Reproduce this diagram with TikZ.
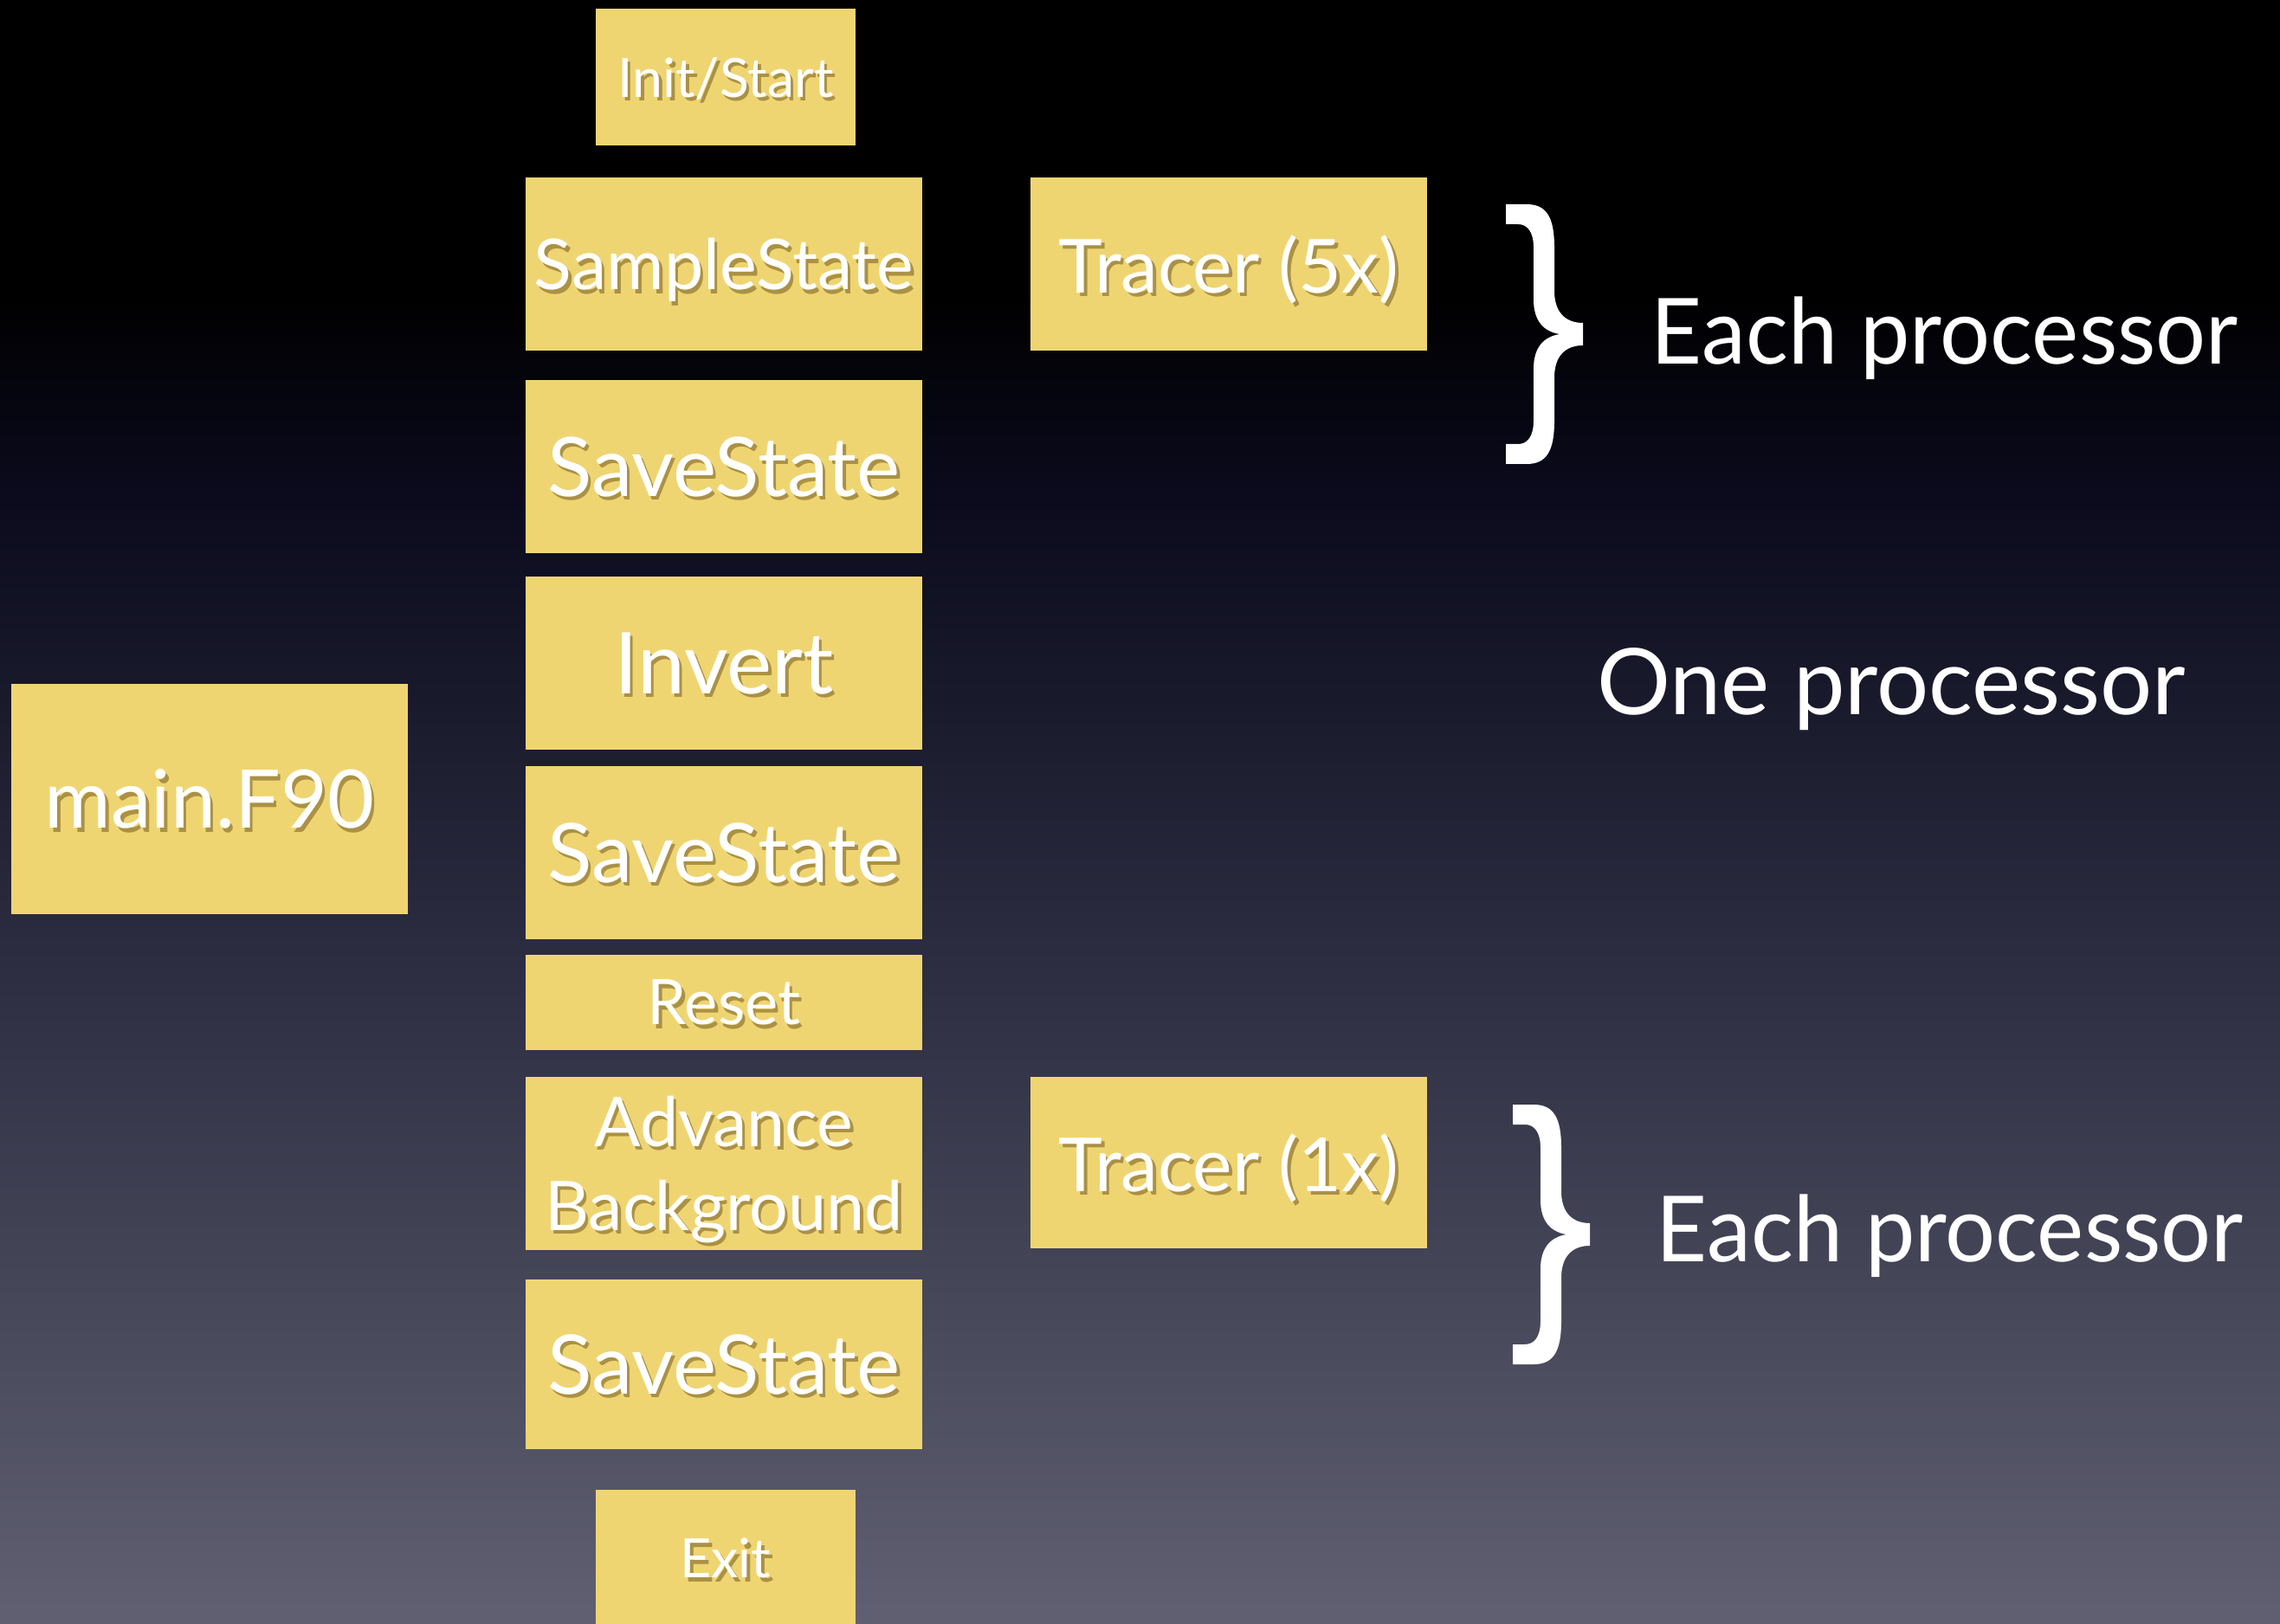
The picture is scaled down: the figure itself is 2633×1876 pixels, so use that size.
\documentclass[tikz,border=0pt]{standalone}
\usepackage{fontspec}
\setmainfont{Lato}
\newfontfamily\narrowfont{Lato}[FakeStretch=0.97]
\usepackage{tikz}
\usetikzlibrary{positioning}

\definecolor{boxc}{RGB}{239,213,114}
\definecolor{shadc}{RGB}{170,145,68}
\definecolor{bgbot}{RGB}{96,96,114}
\definecolor{bglow}{RGB}{46,46,66}
\definecolor{bgdark}{RGB}{10,10,28}
% stops between 25bp (bottom edge) and 75bp (top edge)
\pgfdeclareverticalshading{slidebg}{100bp}{color(0bp)=(bgbot); color(25bp)=(bgbot); color(45bp)=(bglow); color(60bp)=(bgdark); color(66bp)=(black); color(100bp)=(black)}
\newcommand\shtxt[1]{\rlap{\hspace{1pt}\raisebox{-1.2pt}{\color{shadc}#1}}#1}

\begin{document}
\begin{tikzpicture}[x=0.01cm,y=-0.01cm,
  every node/.style={text=white,inner sep=0pt},
  box/.style={fill=boxc,align=center,text depth=0pt,minimum width=4.57cm,minimum height=2cm},
  smallbox/.style={box,minimum width=2.99cm,minimum height=1.58cm,font=\fontsize{17.8}{21}\selectfont},
  lbl/.style={anchor=base west,font=\narrowfont\fontsize{30}{36}\selectfont},
  pics/curly/.style={code={
    \fill[white] (-89,-150) -- (-65,-150) .. controls (-42,-150) and (-33,-135) .. (-33,-100)
      -- (-33,-50) .. controls (-33,-25) and (-20,-13) .. (0,-13) -- (0,13)
      .. controls (-20,13) and (-33,25) .. (-33,50) -- (-33,100)
      .. controls (-33,135) and (-42,150) .. (-65,150) -- (-89,150) -- (-89,127) -- (-75,127)
      .. controls (-64,127) and (-57,118) .. (-57,100) -- (-57,40)
      .. controls (-57,15) and (-45,3) .. (-27,0)
      .. controls (-45,-3) and (-57,-15) .. (-57,-40) -- (-57,-100)
      .. controls (-57,-118) and (-64,-127) .. (-75,-127) -- (-89,-127) -- cycle;
  }}
]
  \useasboundingbox (0,0) rectangle (2633,1876);
  \shade[shading=slidebg] (0,0) rectangle (2633,1876);

  % call sequence
  \node[smallbox] (init) at (838,89) {\shtxt{Init/Start}};
  \node[box,font=\fontsize{23}{27}\selectfont] (sample) at (836,305) {\shtxt{SampleState}};
  \node[box,font=\fontsize{27}{31}\selectfont] (saveA) at (836,539) {\shtxt{SaveState}};
  \node[box,font=\fontsize{28}{32}\selectfont] (invert) at (836,766) {\shtxt{Invert}};
  \node[box,font=\fontsize{27}{31}\selectfont] (saveB) at (836,985) {\shtxt{SaveState}};
  \node[box,minimum height=1.09cm,font=\fontsize{20.6}{24}\selectfont] (reset) at (836,1158) {\shtxt{Reset}};
  \node[box,font=\fontsize{22.5}{27.6}\selectfont] (advance) at (836,1344) {\shtxt{Advance}\\\shtxt{Background}};
  \node[box,minimum height=1.96cm,font=\fontsize{27}{31}\selectfont] (saveC) at (836,1576) {\shtxt{SaveState}};
  \node[smallbox] (exit) at (838,1800) {\shtxt{Exit}};

  \node[box,minimum height=2.65cm,font=\fontsize{26.5}{30}\selectfont] (mainf) at (242,923) {\shtxt{main.F90}};

  % tracers
  \node[box,font=\fontsize{24.5}{28}\selectfont] (tracerA) at (1419,305) {\shtxt{Tracer (5x)}};
  \node[box,minimum height=1.98cm,font=\fontsize{24.5}{28}\selectfont] (tracerB) at (1419,1343) {\shtxt{Tracer (1x)}};

  \pic at (1828,386) {curly};
  \pic at (1836,1426) {curly};
  \node[lbl] (eachA) at (1906,421) {Each processor};
  \node[lbl,font=\fontsize{30.2}{34}\selectfont] (one) at (1844,825) {One processor};
  \node[lbl] (eachB) at (1912,1457) {Each processor};
\end{tikzpicture}
\end{document}
